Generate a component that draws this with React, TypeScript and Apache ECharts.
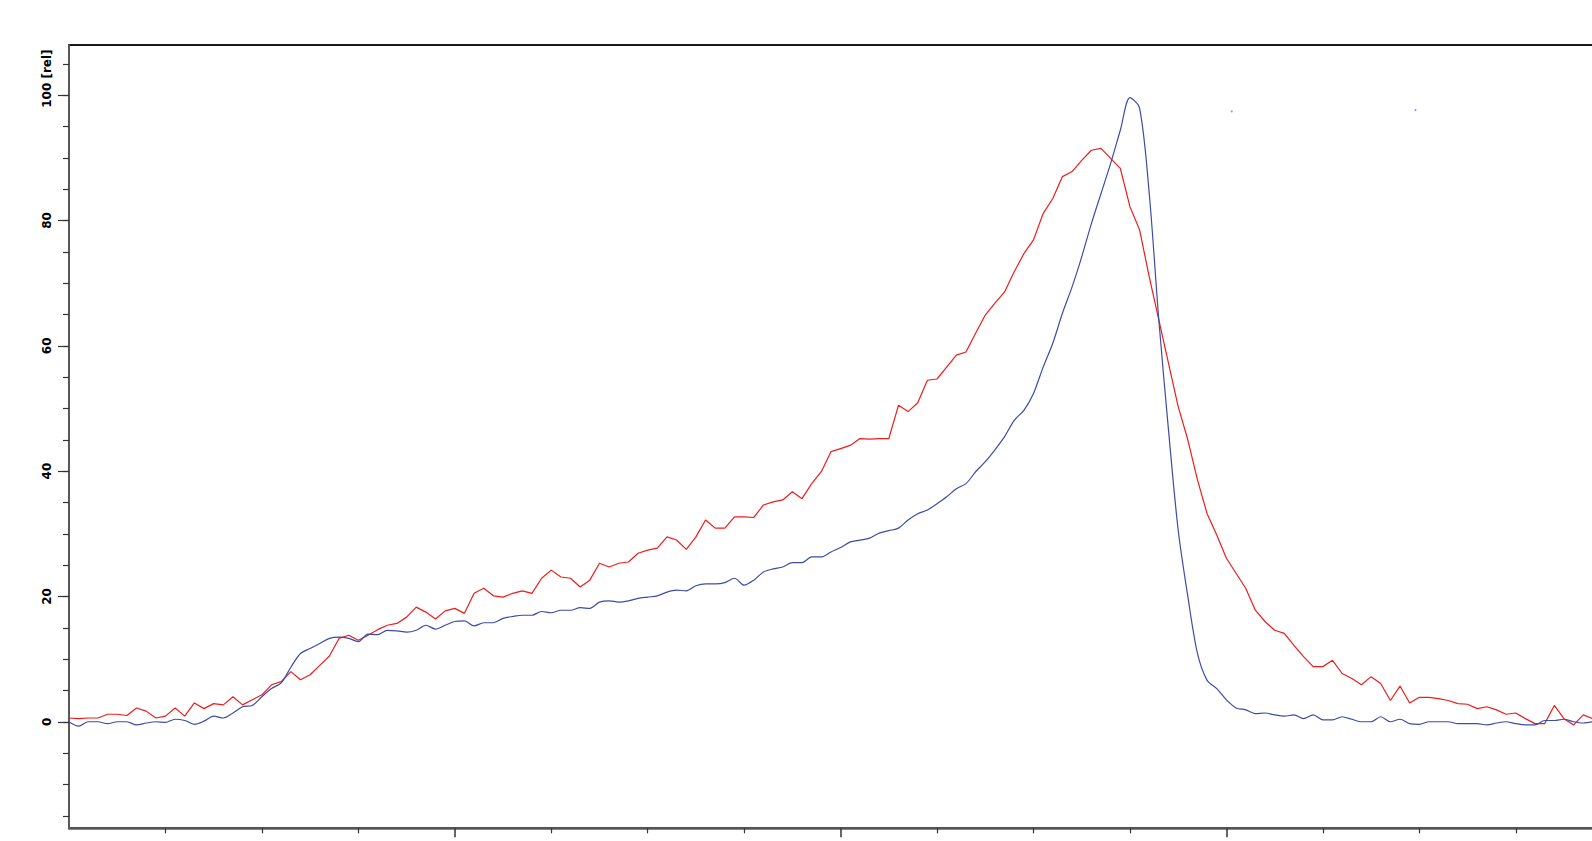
import React, { useEffect, useRef } from "react";
import * as echarts from "echarts";

// sample index (x) — one sample every 1 axis unit; x ticks every 10 units
const blueValues: number[] = [
  0, -0.7, 0, 0, -0.3, 0, 0, -0.5, -0.2, 0,
  -0.1, 0.4, 0.2, -0.4, 0.1, 0.9, 0.6, 1.4, 2.4, 2.6,
  4, 5.3, 6.2, 8.7, 10.9, 11.7, 12.5, 13.3, 13.5, 13.3,
  12.8, 14, 13.9, 14.6, 14.5, 14.3, 14.6, 15.4, 14.8, 15.4,
  16, 16.1, 15.3, 15.8, 15.8, 16.5, 16.8, 17, 17, 17.6,
  17.4, 17.8, 17.8, 18.2, 18.1, 19.1, 19.3, 19.1, 19.3, 19.7,
  19.9, 20.1, 20.7, 21, 20.9, 21.7, 22, 22, 22.2, 22.9,
  21.8, 22.6, 23.9, 24.4, 24.7, 25.4, 25.4, 26.3, 26.3, 27.1,
  27.8, 28.7, 29, 29.3, 30.1, 30.5, 30.9, 32.2, 33.2, 33.8,
  34.8, 35.9, 37.2, 38, 39.9, 41.5, 43.4, 45.5, 48.1, 49.7,
  52.4, 56.6, 60.4, 65.2, 69.4, 74.2, 79.5, 84.3, 89.1, 94.4,
  99.6, 97.9, 84.3, 64, 46.5, 30.6, 20, 10.9, 6.6, 5.3,
  3.5, 2.2, 1.9, 1.3, 1.4, 1.1, 0.9, 1.1, 0.5, 1.1,
  0.3, 0.3, 0.8, 0.4, 0, 0, 0.8, 0, 0.4, -0.3,
  -0.4, 0, 0, 0, -0.3, -0.3, -0.3, -0.5, -0.2, 0,
  -0.3, -0.5, -0.5, 0.2, 0.2, 0.4, 0, -0.2, 0,
];

const redValues: number[] = [
  0.6, 0.5, 0.6, 0.6, 1.2, 1.2, 1, 2.2, 1.7, 0.6,
  0.9, 2.2, 0.9, 3, 2.1, 2.9, 2.7, 4, 2.7, 3.5,
  4.3, 5.9, 6.4, 8, 6.7, 7.5, 9, 10.5, 13.3, 13.8,
  13, 13.8, 14.7, 15.4, 15.7, 16.7, 18.3, 17.5, 16.4, 17.7,
  18.1, 17.3, 20.5, 21.3, 20.1, 19.9, 20.5, 20.9, 20.5, 22.9,
  24.2, 23.1, 22.9, 21.5, 22.6, 25.3, 24.7, 25.3, 25.5, 26.9,
  27.4, 27.7, 29.5, 29, 27.5, 29.5, 32.2, 30.9, 30.9, 32.7,
  32.7, 32.6, 34.6, 35.1, 35.4, 36.7, 35.6, 38, 39.9, 43.1,
  43.6, 44.1, 45.2, 45.1, 45.2, 45.2, 50.5, 49.5, 50.9, 54.5,
  54.7, 56.6, 58.5, 59, 62, 64.9, 66.8, 68.6, 71.8, 74.7,
  76.9, 81.1, 83.5, 87, 87.8, 89.6, 91.2, 91.5, 89.9, 88.3,
  82.2, 78.5, 71, 64.1, 57.2, 50.3, 45, 38.6, 33.2, 29.8,
  26.1, 23.7, 21.3, 17.8, 16, 14.6, 14.1, 12.2, 10.4, 8.8,
  8.8, 9.8, 7.7, 6.9, 5.9, 7.2, 6.1, 3.4, 5.7, 3.0,
  3.9, 3.9, 3.7, 3.4, 2.9, 2.8, 2.1, 2.4, 1.9, 1.2,
  1.4, 0.5, -0.3, -0.3, 2.6, 0.5, -0.5, 1.1, 0.5,
];

const strayDots: number[][] = [
  [120.55, 97.4],
  [139.6, 97.6],
];

const yMin = -17;
const yMax = 108;
const xMin = 0;
const xMax = 160;
const yMinorTicks = [-15, -10, -5, 0, 5, 10, 15, 20, 25, 30, 35, 40, 45, 50, 55, 60, 65, 70, 75, 80, 85, 90, 95, 100, 105];
const yMajorTicks = [0, 20, 40, 60, 80, 100];
const xMinorTicks = [10, 20, 30, 50, 60, 70, 90, 100, 110, 130, 140, 150];
const xMajorTicks = [40, 80, 120];
const yUnit = "[rel]";

export default function App() {
  const ref = useRef<HTMLDivElement>(null);
  useEffect(() => {
    if (!ref.current) return;
    const chart = echarts.init(ref.current, undefined, { renderer: "svg" });
    const labelFont = { fontFamily: "DejaVu Sans", fontWeight: "bold" as const, fontSize: 12, color: "#000" };
    const axisLineStyle = { color: "#6e6e6e", width: 1.5 };
    const tickStyle = { color: "#333", width: 1.2 };
    chart.setOption({
      animation: false,
      backgroundColor: "#fff",
      grid: {
        left: 69,
        top: 45,
        right: 7.8,
        bottom: 12.7,
        show: true,
        borderColor: "#1a1a1a",
        borderWidth: 2,
        backgroundColor: "transparent",
      },
      xAxis: [
        {
          type: "value",
          min: xMin,
          max: xMax,
          position: "bottom",
          axisLine: { show: true, onZero: false, lineStyle: axisLineStyle },
          axisTick: { show: true, customValues: xMinorTicks, length: 5, inside: false, lineStyle: tickStyle },
          axisLabel: { show: false },
          splitLine: { show: false },
        },
        {
          type: "value",
          min: xMin,
          max: xMax,
          position: "bottom",
          axisLine: { show: false, onZero: false },
          axisTick: { show: true, customValues: xMajorTicks, length: 9, inside: false, lineStyle: { color: "#333", width: 1.5 } },
          axisLabel: { show: false },
          splitLine: { show: false },
        },
      ],
      yAxis: [
        {
          type: "value",
          min: yMin,
          max: yMax,
          position: "left",
          axisLine: { show: true, onZero: false, lineStyle: axisLineStyle },
          axisTick: { show: true, customValues: yMinorTicks, length: 6, lineStyle: tickStyle },
          axisLabel: {
            show: true,
            customValues: yMajorTicks,
            rotate: 90,
            margin: 16,
            ...labelFont,
            formatter: (v: number) => (v === 100 ? "{p| }{b|" + v + " " + yUnit + "}" : "{b|" + v + "}"),
            rich: {
              b: { ...labelFont },
              p: { width: 33, fontSize: 12 },
            },
          },
          splitLine: { show: false },
        },
        {
          type: "value",
          min: yMin,
          max: yMax,
          position: "left",
          axisLine: { show: false, onZero: false },
          axisTick: { show: true, customValues: yMajorTicks, length: 11, lineStyle: tickStyle },
          axisLabel: { show: false },
          splitLine: { show: false },
        },
      ],
      series: [
        {
          type: "line",
          name: "red",
          data: redValues.map((v, i) => [i, v]),
          showSymbol: false,
          lineStyle: { color: "#f01c1c", width: 1.2 },
          itemStyle: { color: "#f01c1c" },
          z: 2,
        },
        {
          type: "line",
          name: "blue",
          data: blueValues.map((v, i) => [i, v]),
          showSymbol: false,
          smooth: 0.3,
          lineStyle: { color: "#3c4ca8", width: 1.2 },
          itemStyle: { color: "#3c4ca8" },
          z: 3,
        },
        {
          type: "scatter",
          data: strayDots,
          symbolSize: 2,
          itemStyle: { color: "#7a80c0" },
          z: 1,
        },
      ],
    });
    return () => chart.dispose();
  }, []);
  return (
    <div style={{ position: "fixed", left: 0, top: 0, width: 1592, height: 841, overflow: "hidden", background: "#fff" }}>
      <div ref={ref} style={{ width: 1620, height: 841 }} />
    </div>
  );
}
